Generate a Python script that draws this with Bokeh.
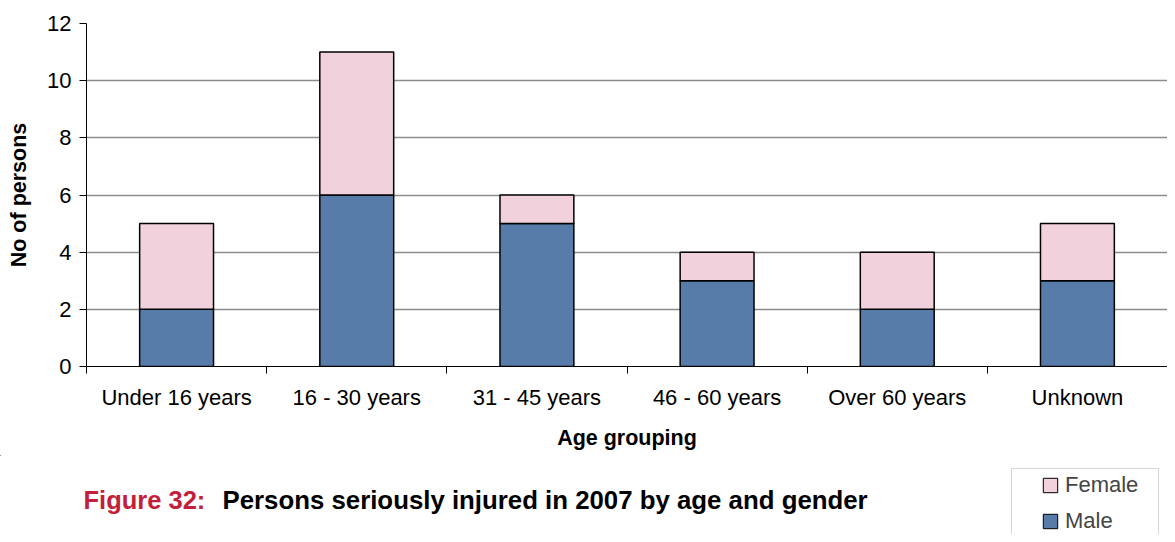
from bokeh.plotting import figure
from bokeh.layouts import column
from bokeh.models import (ColumnDataSource, FixedTicker, Range1d, Legend, LegendItem, Label, BoxAnnotation)
from bokeh.embed import file_html
from bokeh.resources import INLINE

categories = ["Under 16 years", "16 - 30 years", "31 - 45 years", "46 - 60 years", "Over 60 years", "Unknown"]
male = [2, 6, 5, 3, 2, 3]
female = [3, 5, 1, 1, 2, 2]
y_ticks = [0, 2, 4, 6, 8, 10, 12]
series_names = ["Female", "Male"]

MALE_COLOR = "#587CA9"
FEMALE_COLOR = "#F1D1DC"
FONT = "Liberation Sans"

W = 1167
H_TOP = 455
H_BOT = 79
LEFT = 86

xpos = [i + 0.5 for i in range(len(categories))]
totals = [m + f for m, f in zip(male, female)]
src = ColumnDataSource(dict(x=xpos, male=male, female=female, total=totals))

p = figure(width=W, height=H_TOP, output_backend="svg", toolbar_location=None,
           x_range=Range1d(0, len(categories)), y_range=Range1d(0, 12),
           min_border_left=LEFT, min_border_top=23, min_border_right=0, min_border_bottom=H_TOP - 366)
p.outline_line_color = None
p.frame_align = False

r_male = p.vbar(x="x", bottom=0, top="male", width=0.41, source=src,
                fill_color=MALE_COLOR, line_color="black", line_width=1.5)
r_female = p.vbar(x="x", bottom="male", top="total", width=0.41, source=src,
                  fill_color=FEMALE_COLOR, line_color="black", line_width=1.5)

# y axis
p.yaxis.ticker = FixedTicker(ticks=y_ticks)
p.yaxis.axis_line_color = "black"
p.yaxis.major_tick_out = 7
p.yaxis.major_tick_in = 0
p.yaxis.minor_tick_line_color = None
p.yaxis.major_label_text_font = FONT
p.yaxis.major_label_text_font_size = "22px"
p.yaxis.major_label_text_color = "black"
p.yaxis.major_label_standoff = 8
p.yaxis.axis_label = "No of persons"
p.yaxis.axis_label_text_font = FONT
p.yaxis.axis_label_text_font_style = "bold"
p.yaxis.axis_label_text_font_size = "21.5px"
p.yaxis.axis_label_text_color = "black"
p.yaxis.axis_label_standoff = 13

# x axis
p.xaxis.ticker = FixedTicker(ticks=xpos, minor_ticks=list(range(len(categories) + 1)))
p.xaxis.major_label_overrides = {x: c for x, c in zip(xpos, categories)}
p.xaxis.major_tick_out = 0
p.xaxis.major_tick_in = 0
p.xaxis.minor_tick_out = 7
p.xaxis.minor_tick_in = 0
p.xaxis.minor_tick_line_color = "black"
p.xaxis.axis_line_color = "black"
p.xaxis.major_label_text_font = FONT
p.xaxis.major_label_text_font_size = "22px"
p.xaxis.major_label_text_color = "black"
p.xaxis.major_label_standoff = 11
p.xaxis.axis_label = "Age grouping"
p.xaxis.axis_label_text_font = FONT
p.xaxis.axis_label_text_font_style = "bold"
p.xaxis.axis_label_text_font_size = "21.5px"
p.xaxis.axis_label_text_color = "black"
p.xaxis.axis_label_standoff = 13

p.xgrid.grid_line_color = None
p.ygrid.ticker = FixedTicker(ticks=y_ticks[1:])
p.ygrid.grid_line_color = "#8c8c8c"
p.ygrid.grid_line_width = 1.5

# bottom strip: caption and legend (data x = page x, data y = px below strip top)
p2 = figure(width=W, height=H_BOT, output_backend="svg", toolbar_location=None,
            x_range=Range1d(0, W), y_range=Range1d(H_BOT, 0),
            min_border_left=0, min_border_right=0, min_border_top=0, min_border_bottom=0)
p2.frame_align = False
p2.axis.visible = False
p2.grid.grid_line_color = None
p2.outline_line_color = None

p2.add_layout(Label(x=83, y=44.5, text="Figure 32:",
                    text_font=FONT, text_font_style="bold", text_font_size="25.5px",
                    text_color="#C41E3A", text_baseline="middle"))
p2.add_layout(Label(x=222, y=44.5,
                    text="Persons seriously injured in 2007 by age and gender",
                    text_font=FONT, text_font_style="bold", text_font_size="25.8px",
                    text_color="black", text_baseline="middle"))

# legend frame
p2.add_layout(BoxAnnotation(left=1011, right=1158, top=13, bottom=H_BOT + 10,
                            fill_color="white", fill_alpha=1,
                            line_color="#7a7a7a", line_width=1))

lf = p2.vbar(x=[-1000], top=[0], width=1, fill_color=FEMALE_COLOR, line_color="black", line_width=1)
lm = p2.vbar(x=[-1000], top=[0], width=1, fill_color=MALE_COLOR, line_color="black", line_width=1)
legend = Legend(items=[LegendItem(label=series_names[0], renderers=[lf]),
                       LegendItem(label=series_names[1], renderers=[lm])],
                location=(1041, 0), orientation="vertical",
                label_text_font=FONT, label_text_font_size="22px",
                glyph_width=18, glyph_height=18, label_standoff=6,
                label_height=18, spacing=10, padding=0, margin=0,
                border_line_color=None, background_fill_alpha=0)
p2.add_layout(legend, "center")

layout = column(p, p2, spacing=0)
open("out.html", "w").write(file_html(layout, INLINE))
